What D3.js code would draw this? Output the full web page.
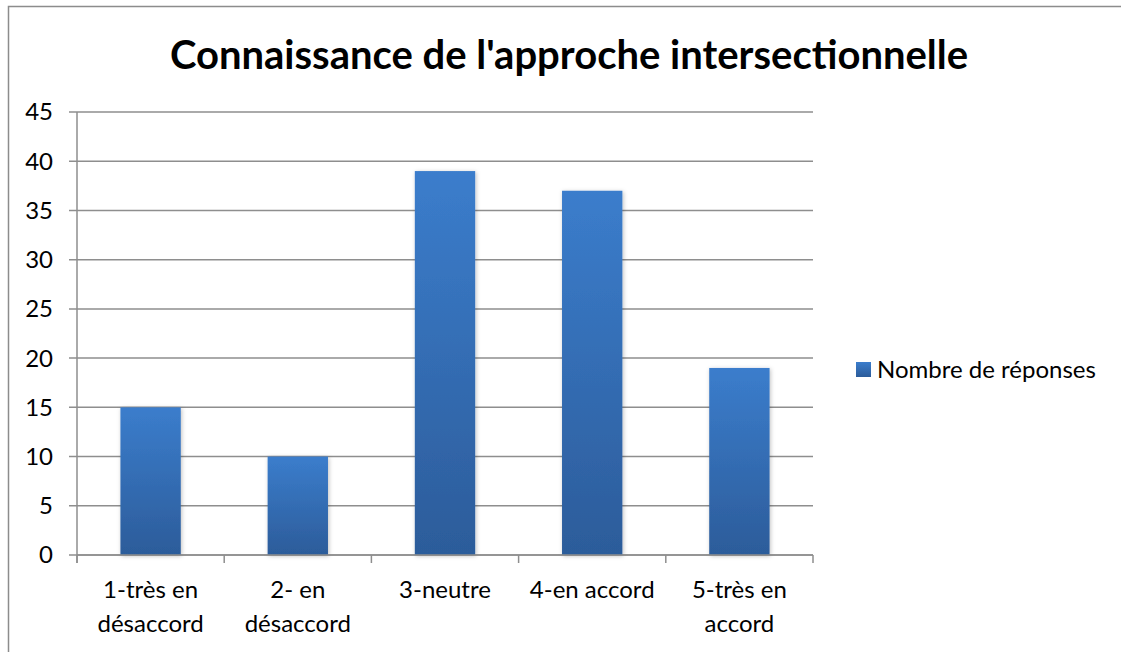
<!DOCTYPE html>
<html><head><meta charset="utf-8">
<script src="https://cdn.jsdelivr.net/npm/d3@7"></script>
<style>body{margin:0;background:#fff}svg{display:block}text{font-family:Lato,"Open Sans",sans-serif;fill:#000}</style>
</head><body>
<svg id="c" width="1121" height="652"></svg>
<script>
const categories = [["1-très en","désaccord"],["2- en","désaccord"],["3-neutre"],["4-en accord"],["5-très en","accord"]];
const values = [15, 10, 39, 37, 19];
const yTicks = [0,5,10,15,20,25,30,35,40,45];
const seriesName = "Nombre de réponses";
const title = "Connaissance de l'approche intersectionnelle";

const svg = d3.select("#c");
const defs = svg.append("defs");
const g = defs.append("linearGradient").attr("id","bg").attr("x1",0).attr("y1",0).attr("x2",0).attr("y2",1);
g.append("stop").attr("offset","0%").attr("stop-color","#3b7dcc");
g.append("stop").attr("offset","100%").attr("stop-color","#2c5c9a");
const f = defs.append("filter").attr("id","sh").attr("x","-20%").attr("y","-10%").attr("width","140%").attr("height","120%");
f.append("feDropShadow").attr("dx",1).attr("dy",1).attr("stdDeviation",2).attr("flood-color","#000").attr("flood-opacity",0.25);

// outer border
svg.append("rect").attr("x",8.5).attr("y",6.5).attr("width",1120).attr("height",660).attr("fill","none").attr("stroke","#8c8c8c").attr("stroke-width",1.5);

const L=77, R=813, T=112, B=555;
const x = d3.scaleBand().domain(d3.range(categories.length)).range([L,R]).paddingInner(0.59).paddingOuter(0.295);
const xb = d3.scaleBand().domain(d3.range(categories.length)).range([L,R]);
const y = d3.scaleLinear().domain([0,45]).range([B,T]);

// gridlines
svg.append("g").selectAll("line").data(yTicks).join("line")
  .attr("x1",L-8).attr("x2",R).attr("y1",d=>y(d)).attr("y2",d=>y(d))
  .attr("stroke","#8e8e8e").attr("stroke-width",1.5);
// y axis line
svg.append("line").attr("x1",L).attr("x2",L).attr("y1",T).attr("y2",B+8).attr("stroke","#8e8e8e").attr("stroke-width",1.5);
// y labels
svg.append("g").selectAll("text").data(yTicks).join("text")
  .attr("x",L-24).attr("y",d=>y(d)).attr("dy","0.35em").attr("text-anchor","end").attr("font-size",24).text(d=>d);

// bars
svg.append("g").selectAll("rect").data(values).join("rect")
  .attr("x",(d,i)=>x(i)).attr("width",x.bandwidth())
  .attr("y",d=>y(d)).attr("height",d=>B-y(d))
  .attr("fill","url(#bg)").attr("filter","url(#sh)");

// x axis
svg.append("line").attr("x1",L).attr("x2",R).attr("y1",B).attr("y2",B).attr("stroke","#8e8e8e").attr("stroke-width",1.5);
svg.append("g").selectAll("line").data(d3.range(categories.length+1)).join("line")
  .attr("x1",i=>L+i*xb.step()).attr("x2",i=>L+i*xb.step()).attr("y1",B).attr("y2",B+8)
  .attr("stroke","#8e8e8e").attr("stroke-width",1.5);
const xl = svg.append("g").selectAll("text").data(categories).join("text")
  .attr("x",(d,i)=>xb(i)+xb.bandwidth()/2).attr("y",598).attr("text-anchor","middle").attr("font-size",24);
xl.selectAll("tspan").data(d=>d).join("tspan")
  .attr("x",function(){return this.parentNode.getAttribute("x");})
  .attr("dy",(d,i)=>i===0?0:34).text(d=>d);

// title
svg.append("text").attr("x",569).attr("y",69).attr("text-anchor","middle").attr("font-size",40).attr("font-weight","bold").text(title);

// legend
svg.append("rect").attr("x",856).attr("y",362).attr("width",15).attr("height",15).attr("fill","url(#bg)");
svg.append("text").attr("x",877).attr("y",369.5).attr("dy","0.35em").attr("font-size",24).text(seriesName);
</script>
</body></html>
